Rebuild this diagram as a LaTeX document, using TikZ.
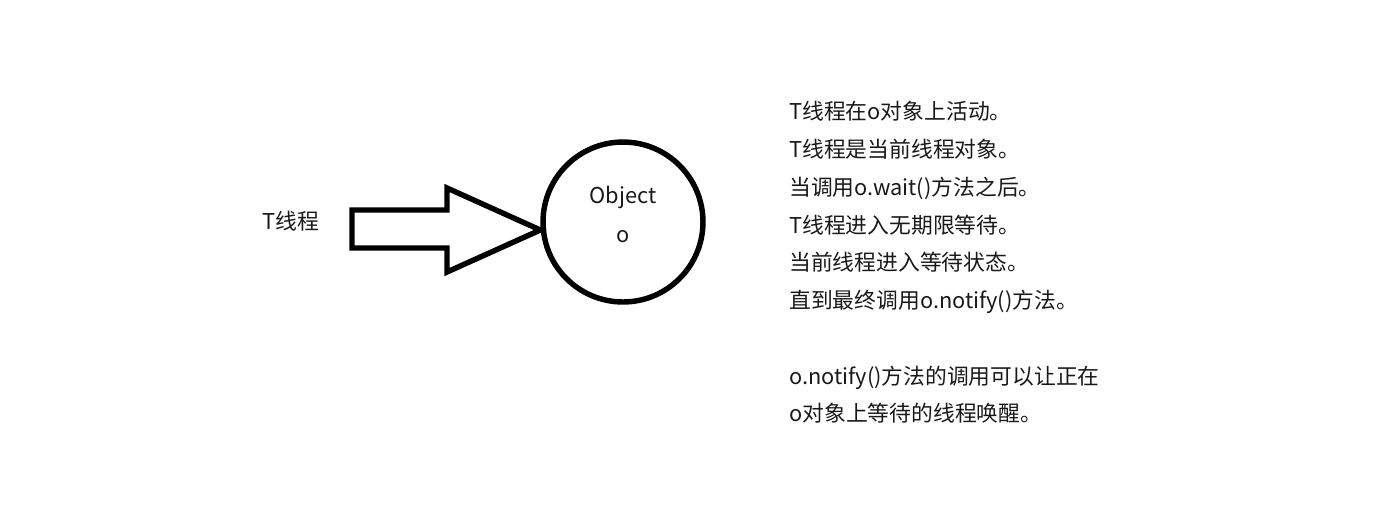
\documentclass[tikz,border=0pt]{standalone}
\usepackage{fontspec}
\newfontfamily\cjk{Noto Sans CJK SC}
\usetikzlibrary{positioning}

\begin{document}
\begin{tikzpicture}[x=0.02cm,y=-0.02cm]
\tikzset{
  txt/.style={font=\cjk\fontsize{12.4}{21.5}\selectfont, text=black!90, inner sep=0pt},
  obj/.style={circle, draw, line width=3.1pt, minimum size=3.2cm, inner sep=0pt}
}
\useasboundingbox (0,0) rectangle (1386,522);

% Thread label
\node[txt] (thread) at (291,221) {T线程};

% Object circle
\node[obj] (objo) at (623,222) {};
\node[txt] (objname) at (623,197) {Object};
\node[txt] (objvar) at (623,237) {o};

% Block arrow
\draw[line width=3.1pt, line join=miter] (352,210) -- (447,210) -- (447,188) -- (objo.west |- 0,230)
  -- (447,272) -- (447,248) -- (352,248) -- cycle;

% Description
\node[txt, align=left, anchor=north west] (desc) at (789,101) {%
T线程在o对象上活动。\\
T线程是当前线程对象。\\
当调用o.wait()方法之后。\\
T线程进入无期限等待。\\
当前线程进入等待状态。\\
直到最终调用o.notify()方法。\\[21.5pt]
o.notify()方法的调用可以让正在\\
o对象上等待的线程唤醒。};
\end{tikzpicture}
\end{document}
